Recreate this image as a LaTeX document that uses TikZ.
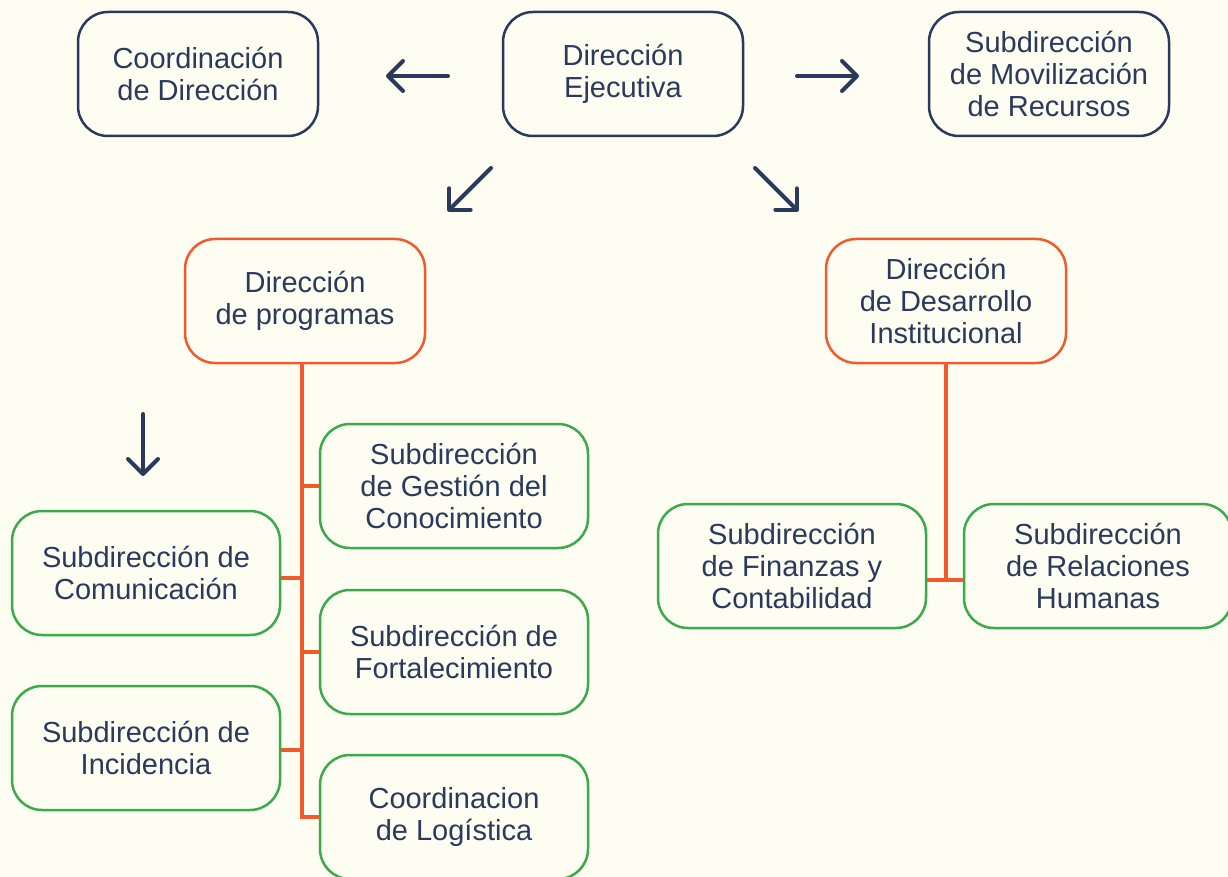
\documentclass[tikz,border=0pt]{standalone}
\usepackage{fontspec}
\setmainfont{Liberation Sans}
\usetikzlibrary{arrows.meta}
\definecolor{bgc}{HTML}{FDFDF2}
\definecolor{navy}{HTML}{2B3A5C}
\definecolor{orng}{HTML}{F15A2B}
\definecolor{grn}{HTML}{3BAA4A}
\tikzset{
  box/.style={draw, line width=2.5pt, rounded corners=30pt, align=center, text=navy,
    font=\fontsize{29}{32}\selectfont, inner sep=0pt},
  topbox/.style={box, draw=navy, minimum width=240pt, minimum height=124pt},
  dirbox/.style={box, draw=orng, minimum width=240pt, minimum height=124pt},
  subbox/.style={box, draw=grn, minimum width=268pt, minimum height=124pt},
  org/.style={draw=orng, line width=4pt},
  arr/.style={draw=navy, line width=4pt, line cap=round, line join=round,
    -{Straight Barb[length=15pt,width=30pt,line cap=round,line join=round]}},
}
\begin{document}
\begin{tikzpicture}[x=1pt,y=-1pt]
\fill[bgc] (0,0) rectangle (1228,877);
\useasboundingbox (0,0) rectangle (1228,877);
\node[topbox] (coord) at (198,74) {Coordinación\\de Dirección};
\node[topbox] (ejec) at (623,74) {Dirección\\Ejecutiva};
\node[topbox] (movil) at (1049,74) {Subdirección\\de Movilización\\de Recursos};
\node[dirbox] (prog) at (305,301) {Dirección\\de programas};
\node[dirbox] (desa) at (946,301) {Dirección\\de Desarrollo\\Institucional};
\node[subbox] (gest) at (454,486) {Subdirección\\de Gestión del\\Conocimiento};
\node[subbox] (comu) at (146,573) {Subdirección de\\Comunicación};
\node[subbox] (fort) at (454,652) {Subdirección de\\Fortalecimiento};
\node[subbox] (inci) at (146,748) {Subdirección de\\Incidencia};
\node[subbox] (logi) at (454,817) {Coordinacion\\de Logística};
\node[subbox] (fina) at (792,566) {Subdirección\\de Finanzas y\\Contabilidad};
\node[subbox] (rrhh) at (1098,566) {Subdirección\\de Relaciones\\Humanas};
% orange tree
\coordinate (trunk) at ([xshift=-3pt]prog.south);
\draw[org] (trunk) |- (logi.west);
\draw[org] (gest.west) -- (gest.west -| trunk);
\draw[org] ([yshift=-5pt]comu.east) -- ([yshift=-5pt]comu.east -| trunk);
\draw[org] (fort.west) -- (fort.west -| trunk);
\draw[org] ([yshift=-2pt]inci.east) -- ([yshift=-2pt]inci.east -| trunk);
\coordinate (jn) at (desa.south |- 0,580);
\draw[org] (desa.south) -- (jn);
\draw[org] (fina.east |- jn) -- (rrhh.west |- jn);
% navy arrows
\coordinate (la0) at (448,76); \coordinate (la1) at (386,76);
\coordinate (ra0) at (797,76); \coordinate (ra1) at (859,76);
\coordinate (dl0) at (491,168); \coordinate (dl1) at (448,211);
\coordinate (dr0) at (755,168); \coordinate (dr1) at (798,211);
\coordinate (dn0) at (143,414); \coordinate (dn1) at (143,476);
\draw[arr] (la0) -- (la1);
\draw[arr] (ra0) -- (ra1);
\draw[arr] (dl0) -- (dl1);
\draw[arr] (dr0) -- (dr1);
\draw[arr] (dn0) -- (dn1);
\end{tikzpicture}
\end{document}
